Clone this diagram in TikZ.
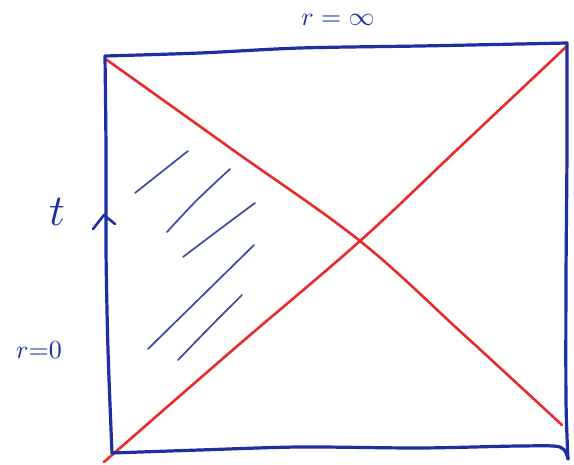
\documentclass[tikz,border=0pt]{standalone}
\begin{document}
\begin{tikzpicture}[x=1pt,y=-1pt,
  pen/.style={draw=penblue,line width=3.2pt,line cap=round,line join=round},
  diag/.style={draw=penred,line width=2.6pt,line cap=round},
  hatch/.style={draw=hatchblue,line width=1.7pt,line cap=round},
  lbl/.style={text=penblue,inner sep=0pt}]
\definecolor{penblue}{RGB}{28,48,160}
\definecolor{penred}{RGB}{232,44,44}
\definecolor{hatchblue}{RGB}{62,72,165}
\useasboundingbox (0,0) rectangle (574,465);
\fill[white] (0,0) rectangle (574,465);
% corners
\coordinate (tl) at (105,56);
\coordinate (tr) at (567,43);
\coordinate (bl) at (112,453);
\coordinate (br) at (568,459);
% red diagonals
\draw[diag] plot[smooth,tension=0.6] coordinates {(107,60) (233,150) (360,241) (462,333) (562,425)};
\draw[diag] plot[smooth,tension=0.6] coordinates {(104,462) (235,348) (360,241) (462,145) (566,47)};
% blue frame
\draw[pen] plot[smooth] coordinates {(105,56) (200,53) (300,48) (420,46) (520,44) (567,43)};
\draw[pen] plot[smooth] coordinates {(105,56) (106,150) (106,250) (108,350) (112,453)};
\draw[pen] plot[smooth] coordinates {(112,453) (200,450) (300,447) (420,448) (520,446) (560,447) (568,459)};
\draw[pen] plot[smooth] coordinates {(567,43) (567,150) (566,280) (566,400) (568,459)};
% time arrow chevron
\coordinate (ta) at (104,215);
\draw[pen,line width=2.6pt] (93,229) -- (ta) -- (115,224);
% hatching
\draw[hatch] (135,193) -- (188,151);
\draw[hatch] plot[smooth] coordinates {(167,232) (196,201) (230,169)};
\draw[hatch] plot[smooth] coordinates {(183,257) (220,229) (255,203)};
\draw[hatch] plot[smooth] coordinates {(148,349) (200,298) (254,245)};
\draw[hatch] plot[smooth] coordinates {(178,360) (211,326) (242,295)};
% labels
\node[lbl,scale=2.6] (rinf) at (338,20) {$r = \infty$};
\node[lbl,scale=4.4] (t) at (57,212) {$t$};
\node[lbl,scale=2.6] (rzero) at (39,350) {$r{=}0$};
\end{tikzpicture}
\end{document}
